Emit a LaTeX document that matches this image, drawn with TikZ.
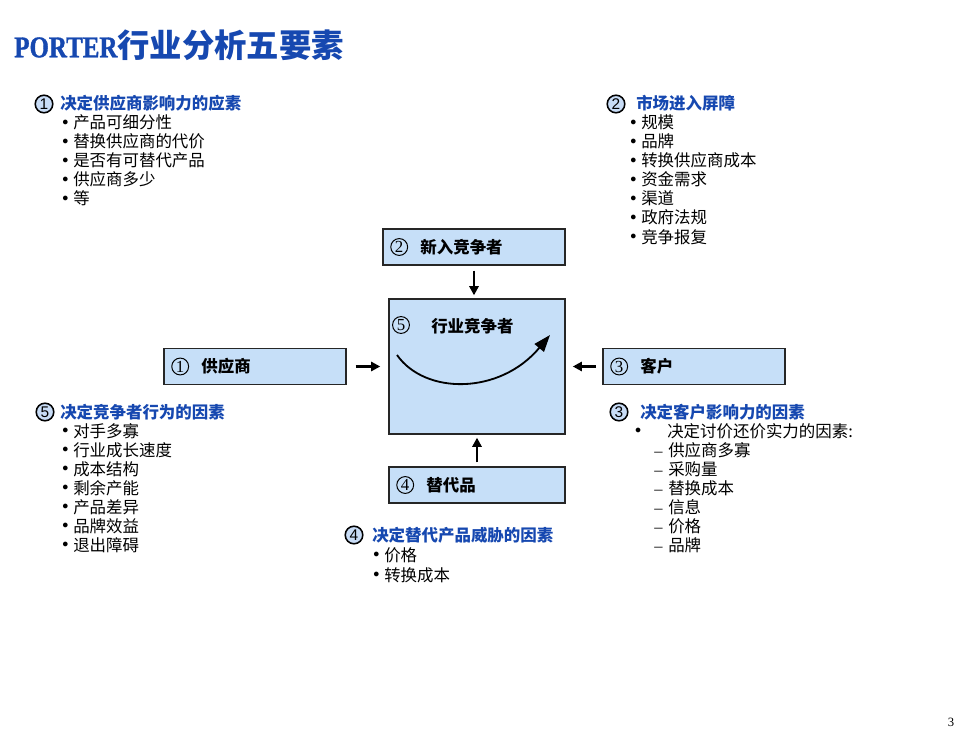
\documentclass[tikz,border=0pt]{standalone}
\usepackage{fontspec}
\setmainfont{Noto Sans CJK SC}
\newfontfamily\latinfont{Liberation Serif}
\newfontfamily\titlefont[FakeStretch=0.83, FakeBold=1.2]{Liberation Serif Bold}
\newfontfamily\numfont{Liberation Sans}
\usetikzlibrary{positioning,arrows.meta}
\definecolor{titleblue}{RGB}{22,72,176}
\definecolor{boxblue}{RGB}{198,223,248}
\definecolor{dotblue}{RGB}{200,220,246}
\newcommand{\dotglyph}{\raisebox{2.2pt}{\scalebox{0.72}{$\bullet$}}}
\newcommand{\itembul}{\llap{\dotglyph\hspace{3.4pt}}}
\newcommand{\itemdash}{\llap{{\latinfont\textendash}\hspace{4pt}}}

\begin{document}
\begin{tikzpicture}[
    x=0.025cm, y=-0.025cm,
    every node/.style={font=\fontsize{11.7pt}{13.5pt}\selectfont},
    % Style for the shaded force boxes
    force/.style={draw=black!85, line width=1pt, fill=boxblue, inner sep=0pt,
        minimum width=4.55cm, minimum height=0.9cm},
    % Style for the circled numbers inside the boxes
    boxnum/.style={circle, draw, line width=0.7pt, inner sep=0pt, minimum size=12pt,
        font=\latinfont\fontsize{12pt}{12pt}\selectfont},
    boxlabel/.style={inner sep=0pt, font=\bfseries\fontsize{11.7pt}{13.5pt}\selectfont},
    % Style for the circled numbers in front of the headings
    headnum/.style={circle, draw, line width=1.1pt, fill=dotblue, inner sep=0pt, minimum size=12.5pt,
        font=\numfont\fontsize{11pt}{11pt}\selectfont},
    headtext/.style={anchor=base west, inner sep=0pt, text=titleblue,
        font=\bfseries\fontsize{11.7pt}{13.5pt}\selectfont},
    item/.style={anchor=base west, inner sep=0pt},
    push/.style={-{Triangle[length=6.5pt,width=6.5pt]}, line width=2pt},
    swirl/.style={-{Triangle[length=12pt,width=8.5pt]}, line width=1.3pt}
]
    \useasboundingbox (0,0) rectangle (980,735);

    % --- 1. Title ---
    \node[anchor=west, inner sep=0pt, text=titleblue] (title) at (14,45)
        {{\titlefont\fontsize{21.4pt}{24pt}\selectfont PORTER}{\bfseries\fontsize{23pt}{24pt}\selectfont 行业分析五要素}};

    % --- 2. Force boxes ---
    \node[force] (ent) at (474,247) {};
    \node[force, minimum width=4.4cm, minimum height=3.375cm] (rival) at (477,366.5) {};
    \node[force] (sup) at (255,366.5) {};
    \node[force] (cus) at (694,366.5) {};
    \node[force, minimum width=4.4cm] (sub) at (477,485) {};

    \node[boxnum, right=0.2cm of ent.west] (entn) {2};
    \node[boxlabel, anchor=west, right=0.3cm of entn] (entl) {新入竞争者};
    \node[boxnum, right=0.2cm of sup.west] (supn) {1};
    \node[boxlabel, anchor=west, right=0.3cm of supn] (supl) {供应商};
    \node[boxnum, right=0.2cm of cus.west] (cusn) {3};
    \node[boxlabel, anchor=west, right=0.3cm of cusn] (cusl) {客户};
    \node[boxnum, right=0.2cm of sub.west] (subn) {4};
    \node[boxlabel, anchor=west, right=0.3cm of subn] (subl) {替代品};
    \node[boxnum] (rivn) at (401,325) {5};
    \node[boxlabel, anchor=west] (rivl) at (431,326) {行业竞争者};

    % curved arrow inside the rivalry box
    \coordinate (swirl start) at (397,355);
    \coordinate (swirl end) at (550,335);
    \draw[swirl] (swirl start) .. controls (425,395) and (500,395) .. (swirl end);

    % --- 3. Arrows into the rivalry box ---
    \draw[push, shorten <=3.5pt, shorten >=2.1pt] (ent) -- (ent.south |- rival.north);
    \draw[push, shorten <=6.4pt, shorten >=5.7pt] (sup) -- (rival);
    \draw[push, shorten <=4.3pt, shorten >=5pt] (cus) -- (rival);
    \draw[push, shorten <=2.8pt, shorten >=2.1pt] (sub) -- (rival);

    % --- 4. Factor lists ---
    % 1: suppliers
    \node[headnum] (h1n) at (44,104) {1};
    \node[headtext] (h1) at (60,110) {决定供应商影响力的应素};
    \foreach \txt [count=\i] in {产品可细分性, 替换供应商的代价, 是否有可替代产品, 供应商多少, 等}
        \node[item] (sup\i) at (73,110+19*\i) {\itembul\txt};

    % 2: entry barriers
    \node[headnum] (h2n) at (616,104) {2};
    \node[headtext] (h2) at (636,110) {市场进入屏障};
    \foreach \txt [count=\i] in {规模, 品牌, 转换供应商成本, 资金需求, 渠道, 政府法规, 竞争报复}
        \node[item] (ent\i) at (641,110+19*\i) {\itembul\txt};

    % 5: rivalry
    \node[headnum] (h5n) at (45,412) {5};
    \node[headtext] (h5) at (60,418) {决定竞争者行为的因素};
    \foreach \txt [count=\i] in {对手多寡, 行业成长速度, 成本结构, 剩余产能, 产品差异, 品牌效益, 退出障碍}
        \node[item] (riv\i) at (73,418+19*\i) {\itembul\txt};

    % 3: customers
    \node[headnum] (h3n) at (619,412) {3};
    \node[headtext] (h3) at (640,418) {决定客户影响力的因素};
    \node[item] (cus0) at (667,437) {\llap{\dotglyph\hspace{18.5pt}}决定讨价还价实力的因素:};
    \foreach \txt [count=\i] in {供应商多寡, 采购量, 替换成本, 信息, 价格, 品牌}
        \node[item] (cus\i) at (668,437+19*\i) {\itemdash\txt};

    % 4: substitutes
    \node[headnum] (h4n) at (354,535) {4};
    \node[headtext] (h4) at (372,541) {决定替代产品威胁的因素};
    \foreach \txt [count=\i] in {价格, 转换成本}
        \node[item] (sub\i) at (384,541+20*\i) {\itembul\txt};

    % page number
    \node[font=\latinfont\fontsize{9pt}{9pt}\selectfont] (pageno) at (951,722) {3};

\end{tikzpicture}
\end{document}
